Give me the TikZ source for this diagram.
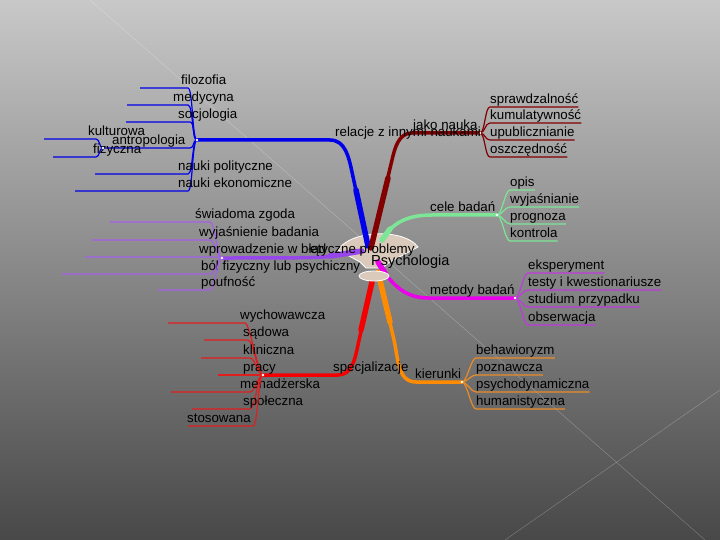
\documentclass[tikz,border=0pt]{standalone}
\usepackage{fontspec}
\setmainfont{Liberation Sans}
\usepackage{xcolor}
\usepackage{tikz}
\usetikzlibrary{positioning}

\definecolor{bgtop}{RGB}{200,200,200}
\definecolor{bgmid}{RGB}{140,140,140}
\definecolor{bgbot}{RGB}{72,72,72}
\definecolor{beige}{RGB}{218,202,188}
\definecolor{cblue}{RGB}{0,0,235}
\definecolor{cdark}{RGB}{130,0,0}
\definecolor{cgreen}{RGB}{125,230,150}
\definecolor{cmag}{RGB}{235,0,235}
\definecolor{cmagsub}{RGB}{190,60,220}
\definecolor{corange}{RGB}{255,140,0}
\definecolor{corsub}{RGB}{235,140,40}
\definecolor{cred}{RGB}{245,0,0}
\definecolor{credsub}{RGB}{225,30,30}
\definecolor{cpurple}{RGB}{150,70,235}
\definecolor{cpursub}{RGB}{165,95,235}

\begin{document}
\begin{tikzpicture}[
  x=1pt, y=-1pt,
  font=\fontsize{13.3}{15}\selectfont,
  leaf/.style={inner sep=0pt, anchor=south west, text height=9.5pt, text depth=3pt},
  mainbr/.style={line width=3.5pt, line cap=round},
  trunk/.style={line width=5.5pt, line cap=round},
  twig/.style={line width=1.2pt},
  hubdot/.style={fill=white},
  icon/.style={fill=beige, draw=white, line width=.8pt}
]
\useasboundingbox (0,0) rectangle (720,540);
\shade[top color=bgtop, middle color=bgmid, bottom color=bgbot] (0,0) rectangle (720,540);
\draw[white, opacity=.3] (90,0) -- (705,540);
\draw[white, opacity=.3] (720,390) -- (505,540);

% centre
\draw[icon] (338,250) .. controls (350,230) and (404,228) .. (418,247)
  -- (390,262) -- (382,268) -- (366,268) -- (360,262) -- cycle;

\coordinate (cRel)   at (368,246);
\coordinate (cNauka) at (371,248);
\coordinate (cCele)  at (382,240);
\coordinate (cMet)   at (378,262);
\coordinate (cKier)  at (378,272);
\coordinate (cSpec)  at (372,282);
\coordinate (cEt)    at (362,251);

\coordinate (hubRel)   at (197,140);
\coordinate (hubNauka) at (480,133);
\coordinate (hubCele)  at (497,215);
\coordinate (hubMet)   at (515,298);
\coordinate (hubKier)  at (462,382);
\coordinate (hubSpec)  at (263,375);
\coordinate (hubEt)    at (222,258);

% main branches
\draw[mainbr, cblue]   (cRel) -- (352,172) to[out=102,in=0] (330,140) -- (hubRel);
\draw[trunk, cblue]    (cRel) -- (356,190);
\draw[mainbr, cdark]   (cNauka) -- (392,160) to[out=77,in=180] (412,133) -- (hubNauka);
\draw[trunk, cdark]    (cNauka) -- (388,178);
\draw[mainbr, cgreen]  (cCele) to[out=60,in=180] (432,215) -- (hubCele);
\draw[trunk, cgreen]   (cCele) -- (390,229);
\draw[mainbr, cmag]    (cMet) to[out=-60,in=180] (428,298) -- (hubMet);
\draw[trunk, cmag]     (cMet) -- (386,275);
\draw[mainbr, corange] (cKier) -- (394,340) to[out=-77,in=180] (416,382) -- (hubKier);
\draw[trunk, corange]  (cKier) -- (390,322);
\draw[mainbr, cred]    (cSpec) -- (358,345) to[out=-102,in=0] (338,375) -- (hubSpec);
\draw[trunk, cred]     (cSpec) -- (361,330);
\draw[mainbr, cpurple] (cEt) .. controls (330,258) .. (hubEt);
\draw[trunk, cpurple]  (cEt) -- (330,256);

\draw[icon] (374,276) ellipse [x radius=15pt, y radius=5pt];

% relacje z innymi naukami
\foreach \lbl/\tx/\y/\lx/\rx [count=\i] in {filozofia/181/88/140/188,
    medycyna/173/105/127/188, socjologia/178/122/126/190,
    antropologia/112/148/103/190, nauki polityczne/178/174/95/188,
    nauki ekonomiczne/178/191/75/188}{
  \coordinate (relA\i) at (\rx,\y);
  \coordinate (relB\i) at (\lx,\y);
  \draw[twig, cblue] (hubRel) .. controls +(-5,0) and +(5,0) .. (relA\i) -- (relB\i);
  \node[leaf] (rel\i) at (\tx,\y) {\lbl};
}
\foreach \lbl/\tx/\y/\lx/\rx [count=\i] in {kulturowa/88/139/44/96,
    fizyczna/93/157/53/96}{
  \coordinate (antA\i) at (\rx,\y);
  \coordinate (antB\i) at (\lx,\y);
  \draw[twig, cblue] (relB4) .. controls +(-4,0) and +(4,0) .. (antA\i) -- (antB\i);
  \node[leaf] (ant\i) at (\tx,\y) {\lbl};
}

% etyczne problemy
\foreach \lbl/\tx/\y/\lx/\rx [count=\i] in {świadoma zgoda/195/222/110/210,
    wyjaśnienie badania/199/240/92/210, wprowadzenie w błąd/199/257/85/215,
    ból fizyczny lub psychiczny/201/274/62/210, poufność/201/290/158/210}{
  \coordinate (etA\i) at (\rx,\y);
  \coordinate (etB\i) at (\lx,\y);
  \draw[twig, cpursub] (hubEt) .. controls +(-5,0) and +(5,0) .. (etA\i) -- (etB\i);
  \node[leaf] (et\i) at (\tx,\y) {\lbl};
}

% specjalizacje
\foreach \lbl/\tx/\y/\lx/\rx [count=\i] in {wychowawcza/240/323/168/245,
    sądowa/243/340/204/248, kliniczna/243/358/201/250, pracy/243/375/218/255,
    menadżerska/240/392/171/250, społeczna/243/409/192/250,
    stosowana/187/426/188/253}{
  \coordinate (spA\i) at (\rx,\y);
  \coordinate (spB\i) at (\lx,\y);
  \draw[twig, credsub] (hubSpec) .. controls +(-5,0) and +(5,0) .. (spA\i) -- (spB\i);
  \node[leaf] (sp\i) at (\tx,\y) {\lbl};
}

% jako nauka
\foreach \lbl/\y [count=\i] in {sprawdzalność/107, kumulatywność/123,
    upublicznianie/140, oszczędność/157}{
  \node[leaf] (nauka\i) at (490,\y) {\lbl};
  \draw[twig, cdark] (hubNauka) .. controls +(5,0) and +(-5,0) .. (nauka\i.south west) -- (nauka\i.south east);
}

% cele badań
\foreach \lbl/\y [count=\i] in {opis/190, wyjaśnianie/207, prognoza/224, kontrola/241}{
  \node[leaf] (cel\i) at (510,\y) {\lbl};
  \draw[twig, cgreen] (hubCele) .. controls +(5,0) and +(-5,0) .. (cel\i.south west) -- (cel\i.south east);
}

% metody badań
\foreach \lbl/\y [count=\i] in {eksperyment/273, testy i kwestionariusze/290,
    studium przypadku/307, obserwacja/325}{
  \node[leaf] (met\i) at (528,\y) {\lbl};
  \draw[twig, cmagsub] (hubMet) .. controls +(5,0) and +(-5,0) .. (met\i.south west) -- (met\i.south east);
}

% kierunki
\foreach \lbl/\y [count=\i] in {behawioryzm/358, poznawcza/375,
    psychodynamiczna/392, humanistyczna/409}{
  \node[leaf] (kier\i) at (476,\y) {\lbl};
  \draw[twig, corsub] (hubKier) .. controls +(5,0) and +(-5,0) .. (kier\i.south west) -- (kier\i.south east);
}

\foreach \h in {hubRel, hubNauka, hubCele, hubMet, hubKier, hubSpec, hubEt, relB4}
  \fill[hubdot] (\h) circle (1.4pt);

% branch labels
\node[leaf] (lRel)   at (335,140) {relacje z innymi naukami};
\node[leaf] (lNauka) at (413,133) {jako nauka};
\node[leaf] (lCele)  at (430,215) {cele badań};
\node[leaf] (lMet)   at (430,298) {metody badań};
\node[leaf] (lKier)  at (415,382) {kierunki};
\node[leaf] (lSpec)  at (333,375) {specjalizacje};
\node[leaf] (lEt)    at (310,257) {etyczne problemy};
\node[inner sep=0pt, anchor=base west, font=\fontsize{14.5}{16}\selectfont]
  (psych) at (371,265) {Psychologia};
\end{tikzpicture}
\end{document}
